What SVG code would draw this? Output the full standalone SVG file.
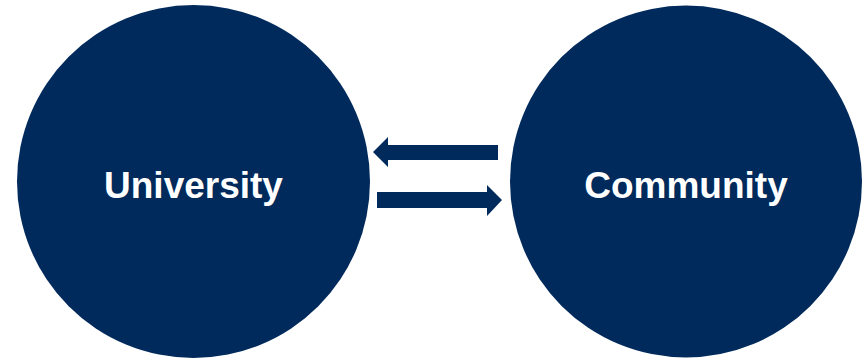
<svg xmlns="http://www.w3.org/2000/svg" width="865" height="361" viewBox="0 0 865 361">
<style>
.node{fill:#002a5c}
.lbl{fill:#ffffff;font-family:"Liberation Sans",Arial,sans-serif;font-weight:bold;font-size:37px;text-anchor:middle}
.arrow{fill:#002a5c}
</style>
<rect width="865" height="361" fill="#ffffff"/>
<g id="university">
<circle class="node" cx="193.5" cy="181.5" r="176.5"/>
<text class="lbl" x="193.5" y="198">University</text>
</g>
<g id="community">
<circle class="node" cx="686" cy="181.5" r="176"/>
<text class="lbl" x="686" y="198">Community</text>
</g>
<g id="connectors">
<polygon class="arrow" points="373,152 388,137 388,145 498,145 498,160 388,160 388,167"/>
<polygon class="arrow" points="502,200 487,185 487,192 377,192 377,208 487,208 487,216"/>
</g>
</svg>
